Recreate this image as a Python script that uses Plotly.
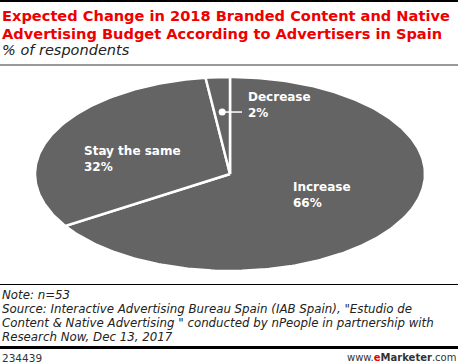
import math
import plotly.graph_objects as go

categories = ["Increase", "Stay the same", "Decrease"]
values = [66, 32, 2]
title_lines = ["Expected Change in 2018 Branded Content and Native",
               "Advertising Budget According to Advertisers in Spain"]
subtitle = "% of respondents"
note_lines = [
    "Note: n=53",
    "Source: Interactive Advertising Bureau Spain (IAB Spain), \"Estudio de",
    "Content & Native Advertising \" conducted by nPeople in partnership with",
    "Research Now, Dec 13, 2017",
]
chart_id = "234439"

W, H = 458, 364
PIE_COLOR = "#646464"

fig = go.Figure()

total = sum(values)
cum = 0.0
mids = []
for cat, v in zip(categories, values):
    f0 = cum / total
    f1 = (cum + v) / total
    cum += v
    n = max(4, int(360 * (f1 - f0)))
    xs, ys = [0.0], [0.0]
    for i in range(n + 1):
        f = f0 + (f1 - f0) * i / n
        th = math.pi / 2 - 2 * math.pi * f
        xs.append(math.cos(th))
        ys.append(math.sin(th))
    xs.append(0.0)
    ys.append(0.0)
    fig.add_trace(go.Scatter(x=xs, y=ys, mode="lines", fill="toself",
                             fillcolor=PIE_COLOR,
                             line=dict(color="white", width=2.5),
                             hoverinfo="text", text=f"{cat}: {v}%",
                             showlegend=False))
    mids.append(math.pi / 2 - 2 * math.pi * (f0 + f1) / 2)

# pixel mapping: x_px = 230 + 195*u ; y_px = 174 - 97*v
cx, cy, a, b = 230, 174, 195, 97
xr = [(0 - cx) / a, (W - cx) / a]
yr = [(cy - H) / b, cy / b]

# decrease leader dot
th = mids[2]
r = 0.64
dx, dy = r * math.cos(th), r * math.sin(th)
fig.add_trace(go.Scatter(x=[dx], y=[dy], mode="markers",
                         marker=dict(color="white", size=7),
                         hoverinfo="skip", showlegend=False))
lx_end = (242 - cx) / a
fig.add_trace(go.Scatter(x=[dx, lx_end], y=[dy, dy], mode="lines",
                         line=dict(color="white", width=1.5),
                         hoverinfo="skip", showlegend=False))

fig.update_xaxes(range=xr, visible=False, domain=[0, 1], fixedrange=True)
fig.update_yaxes(range=yr, visible=False, domain=[0, 1], fixedrange=True)

ann = []
def px(x):
    return x / W
def py(y):
    return 1 - y / H

def A(**kw):
    d = dict(xref="paper", yref="paper", showarrow=False)
    d.update(kw)
    return d

LBL = dict(family="DejaVu Sans", size=12, color="white")
ann.append(A(x=px(246), y=py(88), xanchor="left", yanchor="top",
             text=f"<b>{categories[2]}<br>{values[2]}%</b>", font=LBL, align="left"))
ann.append(A(x=px(82), y=py(142), xanchor="left", yanchor="top",
             text=f"<b>{categories[1]}<br>{values[1]}%</b>", font=LBL, align="left"))
ann.append(A(x=px(291), y=py(178), xanchor="left", yanchor="top",
             text=f"<b>{categories[0]}<br>{values[0]}%</b>", font=LBL, align="left"))

# title
TITLE = dict(family="DejaVu Sans", size=14.6, color="#ee0000")
for i, t in enumerate(title_lines):
    ann.append(A(x=px(0), y=py(5 + 18 * i), xanchor="left", yanchor="top",
                 text=f"<b>{t}</b>", font=TITLE))
ann.append(A(x=px(0), y=py(40), xanchor="left", yanchor="top",
             text=f"<i>{subtitle}</i>",
             font=dict(family="DejaVu Sans", size=14.5, color="#222222")))

NOTE = dict(family="DejaVu Sans", size=11.8, color="#222222")
for i, t in enumerate(note_lines):
    ann.append(A(x=px(0), y=py(286 + 14 * i), xanchor="left", yanchor="top",
                 text=f"<i>{t}</i>", font=NOTE))

ann.append(A(x=px(0), y=py(350), xanchor="left", yanchor="top",
             text=chart_id,
             font=dict(family="DejaVu Sans", size=10.5, color="#333333")))
ann.append(A(x=px(458), y=py(350), xanchor="right", yanchor="top",
             text="www.<b><span style='color:#ee0000'>e</span>Marketer</b>.com",
             font=dict(family="DejaVu Sans", size=10, color="#333333")))

shapes = [
    dict(type="rect", xref="paper", yref="paper", x0=0, x1=1,
         y0=py(2), y1=py(0), fillcolor="black", line_width=0),
    dict(type="rect", xref="paper", yref="paper", x0=0, x1=1,
         y0=py(66), y1=py(64), fillcolor="#999999", line_width=0),
    dict(type="rect", xref="paper", yref="paper", x0=0, x1=1,
         y0=py(285), y1=py(284), fillcolor="black", line_width=0),
    dict(type="rect", xref="paper", yref="paper", x0=0, x1=1,
         y0=py(349), y1=py(346), fillcolor="black", line_width=0),
]

fig.update_layout(width=W, height=H, margin=dict(l=0, r=0, t=0, b=0),
                  paper_bgcolor="white", plot_bgcolor="white",
                  annotations=ann, shapes=shapes, showlegend=False)

fig.write_html("out.html", config={"displayModeBar": False},
               post_script="document.body.style.margin='0';document.body.style.overflow='hidden';")
